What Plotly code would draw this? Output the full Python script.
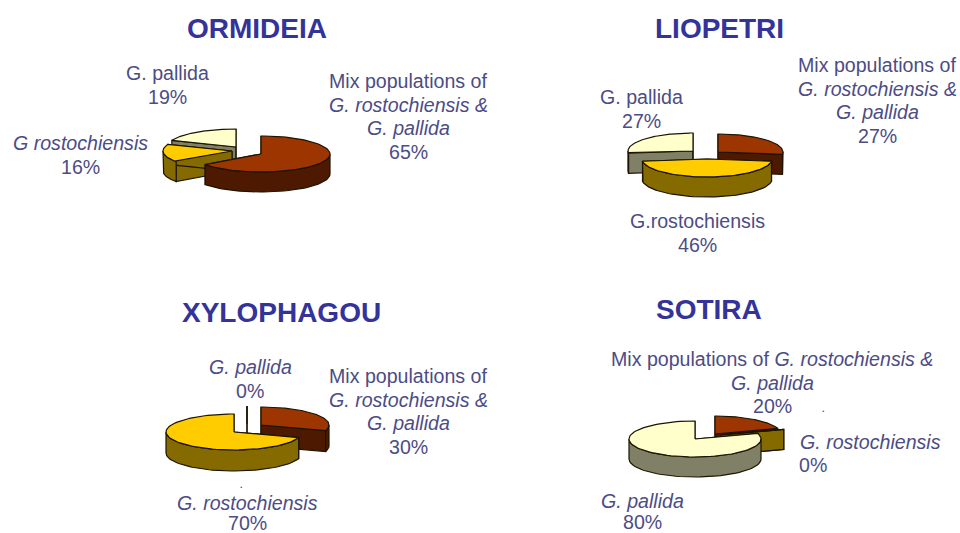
import numpy as np
import plotly.graph_objects as go

# ---- data (percent): order is mix, G. rostochiensis, G. pallida, clockwise from 12 o'clock
ORMIDEIA = [65, 16, 19]
LIOPETRI = [27, 46, 27]
XYLOPHAGOU = [30, 70, 0]
SOTIRA = [20, 0, 80]

# ---- styles
TOP = ["#9C3500", "#FFCC00", "#FFFFCC"]
SIDE = ["#4D1900", "#856A00", "#808066"]
EDGE = "#1c1400"
TEXT = "#4C4C86"
TITLE = "#333399"
FONT = "Liberation Sans"

# ---- layout: ellipse radii, depth, slice anchor points, draw order
PIES = [
    (ORMIDEIA, 69, 18, 20, [(261, 154), (232, 151), (236, 147)], [2, 1, 0]),
    (LIOPETRI, 65, 18, 20, [(718, 152), (707, 159), (693, 151)], [0, 2, 1]),
    (XYLOPHAGOU, 68, 18, 21, [(261, 425), (234, 432), (247, 424)], [2, 0, 1]),
    (SOTIRA, 66, 18, 20, [(715, 434), (721, 435), (695, 439)], [0, 1, 2]),
]


def pt(cx, cy, rx, ry, deg):
    a = np.radians(deg)
    return cx + rx * np.sin(a), cy - ry * np.cos(a)


def poly(fig, xs, ys, color):
    fig.add_trace(go.Scatter(
        x=list(xs), y=list(ys), mode="lines", fill="toself", fillcolor=color,
        line=dict(color=EDGE, width=1.2), hoverinfo="skip", showlegend=False))


fig = go.Figure()
for values, rx, ry, depth, anchors, order in PIES:
    edges = np.concatenate([[0], np.cumsum(values)]) * 3.6
    for i in order:
        a0, a1 = edges[i], edges[i + 1]
        cx, cy = anchors[i]
        # radial cut faces
        for a in (a0, a1):
            ox, oy = pt(cx, cy, rx, ry, a)
            poly(fig, [cx, ox, ox, cx, cx], [cy, oy, oy + depth, cy + depth, cy], SIDE[i])
        # outer wall, front half only
        w0, w1 = max(a0, 90), min(a1, 270)
        if a1 > a0 and w1 > w0:
            t = np.linspace(w0, w1, 60)
            px, py = pt(cx, cy, rx, ry, t)
            poly(fig, np.r_[px, px[::-1], px[0]], np.r_[py, py[::-1] + depth, py[0]], SIDE[i])
        # top face
        t = np.linspace(a0, a1, 90)
        px, py = pt(cx, cy, rx, ry, t)
        poly(fig, np.r_[cx, px, cx], np.r_[cy, py, cy], TOP[i])

# ---- text
TITLES = [("ORMIDEIA", 257, 28), ("LIOPETRI", 719, 28), ("XYLOPHAGOU", 281, 312), ("SOTIRA", 709, 309)]
MIX_LINES = ["Mix populations of", "<i>G. rostochiensis &</i>", "<i>G. pallida</i>"]
LABELS = [
    (167, 73, 23.6, ["G. pallida", f"{ORMIDEIA[2]}%"]),
    (80, 143, 23.6, ["<i>G rostochiensis</i>", f"{ORMIDEIA[1]}%"]),
    (408, 81, 23.6, MIX_LINES + [f"{ORMIDEIA[0]}%"]),
    (877, 65, 23.6, MIX_LINES + [f"{LIOPETRI[0]}%"]),
    (641, 97, 23.6, ["G. pallida", f"{LIOPETRI[2]}%"]),
    (697, 221, 23.6, ["G.rostochiensis", f"{LIOPETRI[1]}%"]),
    (250, 367, 23.6, ["<i>G. pallida</i>", f"{XYLOPHAGOU[2]}%"]),
    (408, 376, 23.6, MIX_LINES + [f"{XYLOPHAGOU[0]}%"]),
    (247, 503, 19.5, ["<i>G. rostochiensis</i>", f"{XYLOPHAGOU[1]}%"]),
    (772, 359, 23.6, ["Mix populations of <i>G. rostochiensis &</i>", "<i>G. pallida</i>", f"{SOTIRA[0]}%"]),
    (870, 442, 23.6, ["<i>G. rostochiensis</i>"]),
    (813, 465, 23.6, [f"{SOTIRA[1]}%"]),
    (642, 501, 21, ["<i>G. pallida</i>", f"{SOTIRA[2]}%"]),
]
DOTS = [(241, 485), (823, 409)]

ann = []
for text, x, y in TITLES:
    ann.append(dict(x=x, y=y, text=f"<b>{text}</b>", font=dict(family=FONT, size=28, color=TITLE)))
for x, y, step, lines in LABELS:
    for k, line in enumerate(lines):
        ann.append(dict(x=x, y=y + k * step, text=line, font=dict(family=FONT, size=19.6, color=TEXT)))
for x, y in DOTS:
    ann.append(dict(x=x, y=y, text="<b>.</b>", font=dict(family=FONT, size=9, color=TEXT)))
for a in ann:
    a.update(xref="x", yref="y", showarrow=False, xanchor="center", yanchor="middle")

fig.update_layout(
    width=960, height=533, margin=dict(l=0, r=0, t=0, b=0),
    paper_bgcolor="white", plot_bgcolor="white", showlegend=False, annotations=ann,
    xaxis=dict(range=[0, 960], visible=False, fixedrange=True),
    yaxis=dict(range=[533, 0], visible=False, fixedrange=True),
)
fig.write_html("out.html", post_script="document.body.style.margin='0';document.body.style.overflow='hidden';",
               config={"displayModeBar": False})
